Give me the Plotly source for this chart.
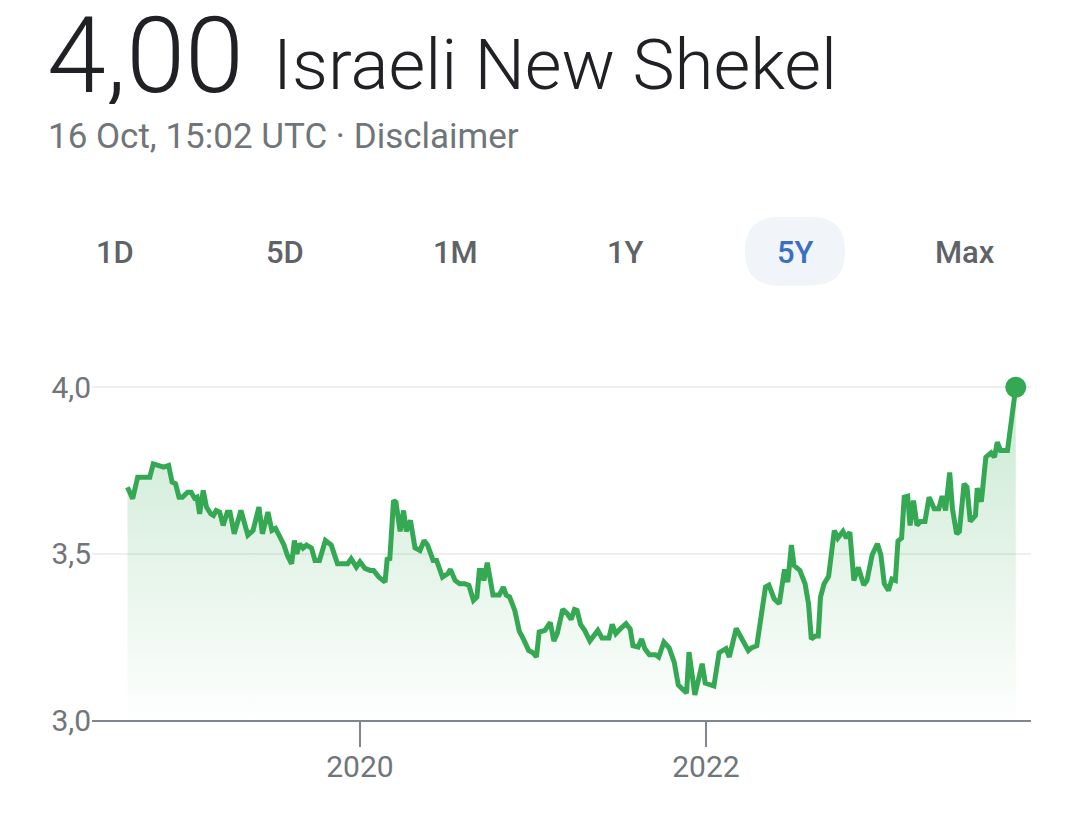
import plotly.graph_objects as go

# page keeps its default 8px body margin; leave room below for the page's trailing line
PAD = 8
W, H = 1080 - 2 * PAD, 822 - 2 * PAD - 19

# weekly-ish USD/ILS closes (decimal years)
years = [
    2018.656, 2018.686, 2018.715, 2018.745, 2018.785, 2018.805, 2018.835, 2018.865,
    2018.894, 2018.914, 2018.934, 2018.954, 2018.974, 2019.004, 2019.024, 2019.044,
    2019.058, 2019.073, 2019.094, 2019.113, 2019.137, 2019.153, 2019.169, 2019.189,
    2019.209, 2019.233, 2019.249, 2019.273, 2019.312, 2019.352, 2019.382, 2019.416,
    2019.436, 2019.468, 2019.491, 2019.512, 2019.541, 2019.561, 2019.581, 2019.605,
    2019.621, 2019.635, 2019.651, 2019.671, 2019.691, 2019.720, 2019.740, 2019.766,
    2019.800, 2019.834, 2019.870, 2019.929, 2019.949, 2019.979, 2020.000, 2020.029,
    2020.059, 2020.079, 2020.109, 2020.145, 2020.158, 2020.172, 2020.194, 2020.208,
    2020.232, 2020.252, 2020.268, 2020.292, 2020.318, 2020.347, 2020.371, 2020.391,
    2020.423, 2020.443, 2020.477, 2020.507, 2020.523, 2020.550, 2020.576, 2020.606,
    2020.630, 2020.656, 2020.676, 2020.690, 2020.702, 2020.716, 2020.736, 2020.756,
    2020.769, 2020.805, 2020.829, 2020.845, 2020.865, 2020.895, 2020.921, 2020.945,
    2020.975, 2021.000, 2021.020, 2021.036, 2021.069, 2021.100, 2021.121, 2021.140,
    2021.172, 2021.199, 2021.221, 2021.240, 2021.255, 2021.275, 2021.299, 2021.329,
    2021.359, 2021.375, 2021.399, 2021.439, 2021.458, 2021.479, 2021.508, 2021.538,
    2021.562, 2021.578, 2021.608, 2021.628, 2021.647, 2021.673, 2021.708, 2021.727,
    2021.757, 2021.787, 2021.817, 2021.840, 2021.888, 2021.902, 2021.936, 2021.978,
    2021.996, 2022.026, 2022.046, 2022.076, 2022.116, 2022.135, 2022.175, 2022.205,
    2022.245, 2022.265, 2022.294, 2022.344, 2022.364, 2022.394, 2022.424, 2022.454,
    2022.473, 2022.494, 2022.509, 2022.543, 2022.573, 2022.593, 2022.609, 2022.633,
    2022.649, 2022.662, 2022.683, 2022.709, 2022.742, 2022.762, 2022.792, 2022.812,
    2022.832, 2022.855, 2022.881, 2022.912, 2022.931, 2022.961, 2022.991, 2023.011,
    2023.031, 2023.055, 2023.075, 2023.095, 2023.110, 2023.131, 2023.146, 2023.166,
    2023.180, 2023.200, 2023.220, 2023.240, 2023.266, 2023.290, 2023.320, 2023.346,
    2023.365, 2023.385, 2023.409, 2023.425, 2023.449, 2023.465, 2023.492, 2023.509,
    2023.528, 2023.558, 2023.568, 2023.592, 2023.618, 2023.648, 2023.668, 2023.684,
    2023.703, 2023.743, 2023.791,
]
rates = [
    3.700, 3.665, 3.730, 3.730, 3.730, 3.770, 3.765, 3.760,
    3.765, 3.715, 3.710, 3.670, 3.670, 3.685, 3.685, 3.667,
    3.670, 3.620, 3.690, 3.640, 3.620, 3.615, 3.630, 3.625,
    3.585, 3.625, 3.625, 3.560, 3.630, 3.556, 3.570, 3.640,
    3.560, 3.625, 3.570, 3.576, 3.547, 3.526, 3.494, 3.470,
    3.540, 3.500, 3.530, 3.517, 3.526, 3.517, 3.480, 3.480,
    3.540, 3.526, 3.470, 3.470, 3.485, 3.460, 3.476, 3.456,
    3.450, 3.450, 3.430, 3.415, 3.488, 3.480, 3.660, 3.655,
    3.567, 3.630, 3.567, 3.600, 3.518, 3.510, 3.540, 3.526,
    3.480, 3.480, 3.430, 3.440, 3.453, 3.420, 3.410, 3.410,
    3.405, 3.360, 3.370, 3.450, 3.450, 3.420, 3.473, 3.424,
    3.376, 3.376, 3.400, 3.376, 3.370, 3.330, 3.268, 3.244,
    3.210, 3.203, 3.190, 3.265, 3.270, 3.294, 3.238, 3.260,
    3.333, 3.320, 3.303, 3.333, 3.330, 3.288, 3.270, 3.238,
    3.260, 3.270, 3.247, 3.247, 3.288, 3.260, 3.276, 3.290,
    3.274, 3.224, 3.220, 3.244, 3.215, 3.197, 3.197, 3.190,
    3.235, 3.218, 3.174, 3.106, 3.082, 3.205, 3.076, 3.170,
    3.112, 3.106, 3.103, 3.203, 3.215, 3.190, 3.276, 3.247,
    3.209, 3.218, 3.224, 3.400, 3.406, 3.365, 3.350, 3.453,
    3.415, 3.526, 3.465, 3.450, 3.410, 3.350, 3.244, 3.253,
    3.253, 3.370, 3.410, 3.432, 3.570, 3.547, 3.567, 3.547,
    3.565, 3.420, 3.459, 3.406, 3.420, 3.497, 3.530, 3.497,
    3.410, 3.390, 3.424, 3.420, 3.538, 3.547, 3.670, 3.673,
    3.585, 3.660, 3.585, 3.597, 3.597, 3.670, 3.635, 3.635,
    3.673, 3.630, 3.744, 3.635, 3.560, 3.567, 3.710, 3.700,
    3.597, 3.615, 3.697, 3.656, 3.790, 3.803, 3.790, 3.835,
    3.810, 3.810, 4.000,
]

price_text = "4,00"
currency_text = "Israeli New Shekel"
stamp_text = "16 Oct, 15:02 UTC · Disclaimer"
range_buttons = ["1D", "5D", "1M", "1Y", "5Y", "Max"]
active_button = "5Y"
y_ticks = [3.0, 3.5, 4.0]
y_labels = ["3,0", "3,5", "4,0"]
x_ticks = [2020, 2022]
x_labels = ["2020", "2022"]

GREEN = "#34a853"
DARK = "#202124"
GREY = "#70757a"
FONT = "Roboto"


def fx(x):
    # window pixel -> paper x
    return (x - PAD) / W


def fy(y):
    # window pixel -> paper y
    return 1 - (y - PAD) / H


fig = go.Figure()

fig.add_trace(go.Scatter(
    x=years, y=rates, mode="lines",
    line=dict(color=GREEN, width=5),
    fill="tozeroy",
    fillgradient=dict(
        type="vertical", start=3.0, stop=3.85,
        colorscale=[[0, "rgba(52,168,83,0)"], [1, "rgba(52,168,83,0.22)"]],
    ),
    hoverinfo="skip",
))
fig.add_trace(go.Scatter(
    x=[years[-1]], y=[rates[-1]], mode="markers",
    marker=dict(color=GREEN, size=21),
    cliponaxis=False, hoverinfo="skip",
))

annotations = [
    dict(text=price_text, x=fx(45), y=fy(57), height=96, valign="middle",
         font=dict(size=106, color=DARK, weight=300)),
    dict(text=currency_text, x=fx(271), y=fy(66), font=dict(size=71, color=DARK, weight=300)),
    dict(text=stamp_text, x=fx(46), y=fy(140), font=dict(size=35, color=GREY)),
]
centers = [115, 285, 455, 625, 795, 965]
for label, cx in zip(range_buttons, centers):
    annotations.append(dict(
        text=label, x=fx(cx), y=fy(258), xanchor="center",
        font=dict(size=31, color="#3c6fc4" if label == active_button else "#5f6368", weight=500),
    ))
for a in annotations:
    a.setdefault("xanchor", "left")
    a.update(xref="paper", yref="paper", yanchor="middle", showarrow=False)
    a["font"].setdefault("family", FONT)

# pill behind the active range button
x0, x1, y0, y1, r = 745, 845, 222, 292, 34
pill = (
    f"M {fx(x0 + r)} {fy(y0)} L {fx(x1 - r)} {fy(y0)} "
    f"Q {fx(x1)} {fy(y0)} {fx(x1)} {fy(y0 + r)} L {fx(x1)} {fy(y1 - r)} "
    f"Q {fx(x1)} {fy(y1)} {fx(x1 - r)} {fy(y1)} L {fx(x0 + r)} {fy(y1)} "
    f"Q {fx(x0)} {fy(y1)} {fx(x0)} {fy(y1 - r)} L {fx(x0)} {fy(y0 + r)} "
    f"Q {fx(x0)} {fy(y0)} {fx(x0 + r)} {fy(y0)} Z"
)

fig.update_layout(
    width=W, height=H,
    margin=dict(l=0, r=0, t=0, b=0),
    paper_bgcolor="white", plot_bgcolor="white",
    showlegend=False,
    font=dict(family=FONT),
    annotations=annotations,
    shapes=[dict(type="path", path=pill, xref="paper", yref="paper",
                 fillcolor="#f1f4f8", line=dict(width=0), layer="below")],
    xaxis=dict(
        domain=[fx(92), fx(1031)], range=[2018.451, 2023.879],
        tickvals=x_ticks, ticktext=x_labels,
        ticks="outside", ticklen=25, tickwidth=2, tickcolor="#80868b",
        showline=True, linecolor="#80868b", linewidth=2,
        showgrid=False, zeroline=False,
        ticklabelstandoff=-6,
        tickfont=dict(size=30, color=GREY),
    ),
    yaxis=dict(
        domain=[fy(737), fy(362)], range=[3.0, 4.1],
        tickvals=y_ticks, ticktext=y_labels,
        showgrid=True, gridcolor="#efefef", gridwidth=1.5,
        zeroline=False, showline=False, ticks="",
        ticklabelstandoff=0,
        tickfont=dict(size=30, color=GREY),
    ),
)

fig.write_html("out.html", config={"displayModeBar": False})
